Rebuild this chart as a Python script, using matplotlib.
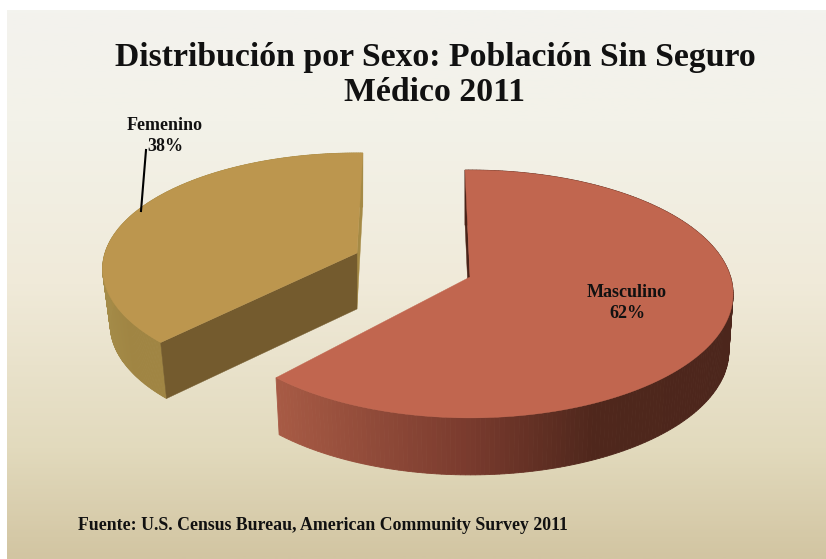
import numpy as np
import matplotlib.pyplot as plt
from matplotlib.colors import LinearSegmentedColormap, to_rgb
from matplotlib.patches import Polygon

# datos
categorias = ['Masculino', 'Femenino']
valores = [62, 38]
titulo = 'Distribución por Sexo: Población Sin Seguro\nMédico 2011'
fuente = 'Fuente: U.S. Census Bureau, American Community Survey 2011'

plt.rcParams['font.family'] = ['Liberation Serif', 'DejaVu Serif']
plt.rcParams['font.weight'] = 'bold'

W, H = 826, 559
fig = plt.figure(figsize=(W/100, H/100), dpi=100, facecolor='white')
ax = fig.add_axes([0, 0, 1, 1])

# fondo degradado
fondo = LinearSegmentedColormap.from_list('fondo', [(0, '#f3f3ee'), (0.2, '#f3f2e9'), (0.5, '#f0ead9'),
                                                    (0.8, '#e2dabd'), (1, '#d2c5a2')])
ax.imshow(np.linspace(0, 1, 300).reshape(-1, 1), cmap=fondo, extent=(7, W, H, 10), aspect='auto', zorder=0)
ax.set_xlim(0, W)
ax.set_ylim(H, 0)
ax.axis('off')

K = 0.137  # perspectiva


def proyectar(ang, cx, cy, R, A):
    # ang en grados, sentido horario desde arriba
    X = np.sin(np.radians(ang))
    Y = np.cos(np.radians(ang))
    return cx + R*X/(1 + K*Y), cy - A*Y/(1 + K*Y), Y


def porcion(ini, fin, cx, cy, R, A, prof, conv, c_sup, c_ext, c_atras, c_ini=None, c_fin=None):
    ang = np.linspace(ini, fin, 240)
    x, y, Y = proyectar(ang, cx, cy, R, A)
    # puntos inferiores de la pared lateral
    xb = x + conv*(cx - x)
    yb = y + prof - 2*np.maximum(Y, 0)

    # pared exterior, con degradado horizontal
    xmin, xmax = x.min(), x.max()
    for i in range(len(ang) - 1):
        t = (x[i] - xmin)/(xmax - xmin)
        rgb = [np.interp(t, [p[0] for p in c_ext], [to_rgb(p[1])[k] for p in c_ext]) for k in range(3)]
        if Y[i] > 0:
            rgb = c_atras
        ax.add_patch(Polygon([(x[i], y[i]), (x[i+1], y[i+1]), (xb[i+1], yb[i+1]), (xb[i], yb[i])],
                             fc=rgb, ec=rgb, lw=0.6, zorder=2))

    # paredes de los cortes
    if c_fin is not None:
        ax.add_patch(Polygon([(cx, cy), (x[-1], y[-1]), (xb[-1], yb[-1]), (cx, cy + prof)],
                             fc=c_fin, ec=c_fin, lw=0.3, zorder=3))
    if c_ini is not None:
        ax.add_patch(Polygon([(cx, cy), (x[0], y[0]), (xb[0], yb[0]), (cx, cy + prof)],
                             fc=c_ini, ec=c_ini, lw=0.3, zorder=3))

    # cara superior
    ax.add_patch(Polygon(np.r_[[[cx, cy]], np.c_[x, y]], fc=c_sup, ec=c_sup, lw=0.3, zorder=4))


# angulos sacados de los valores
total = sum(valores)
barrido = [v/total*360 for v in valores]

# Femenino: termina arriba, sale hacia la izquierda
fin_f = 1.5
porcion(fin_f - barrido[1], fin_f, 357, 253, 252, 113.7, 56, 0.03, '#bc964e',
        [(0, '#a48b48'), (0.1, '#a08543'), (1, '#a08543')], '#a58a45', c_ini='#745b2e', c_fin='#a58a45')

# Masculino: empieza arriba y gira en sentido horario
ini_m = -1.25
porcion(ini_m, ini_m + barrido[0], 470, 277, 260.6, 121.6, 57, 0.016, '#c1664f',
        [(0, '#a85b45'), (0.42, '#7a3b2e'), (0.7, '#4f271c'), (1, '#4c261c')], '#4a2318', c_ini='#4a2318')

# linea guia de Femenino
ax.plot([146, 141], [150, 211], color='black', lw=1.5, zorder=5)

# textos
ax.text(435, 75, titulo, ha='center', va='center', fontsize=24.3, color='#111111', linespacing=1.2, zorder=6)
ax.text(165, 136, f'{categorias[1]}\n{valores[1]}%', ha='center', va='center', fontsize=13, color='#111111', linespacing=1.25, zorder=6)
ax.text(627, 303, f'{categorias[0]}\n{valores[0]}%', ha='center', va='center', fontsize=13, color='#111111', linespacing=1.25, zorder=6)
ax.text(78, 525.5, fuente, ha='left', va='center', fontsize=12.8, color='#111111', zorder=6)

fig.savefig('out.png', dpi=100)
